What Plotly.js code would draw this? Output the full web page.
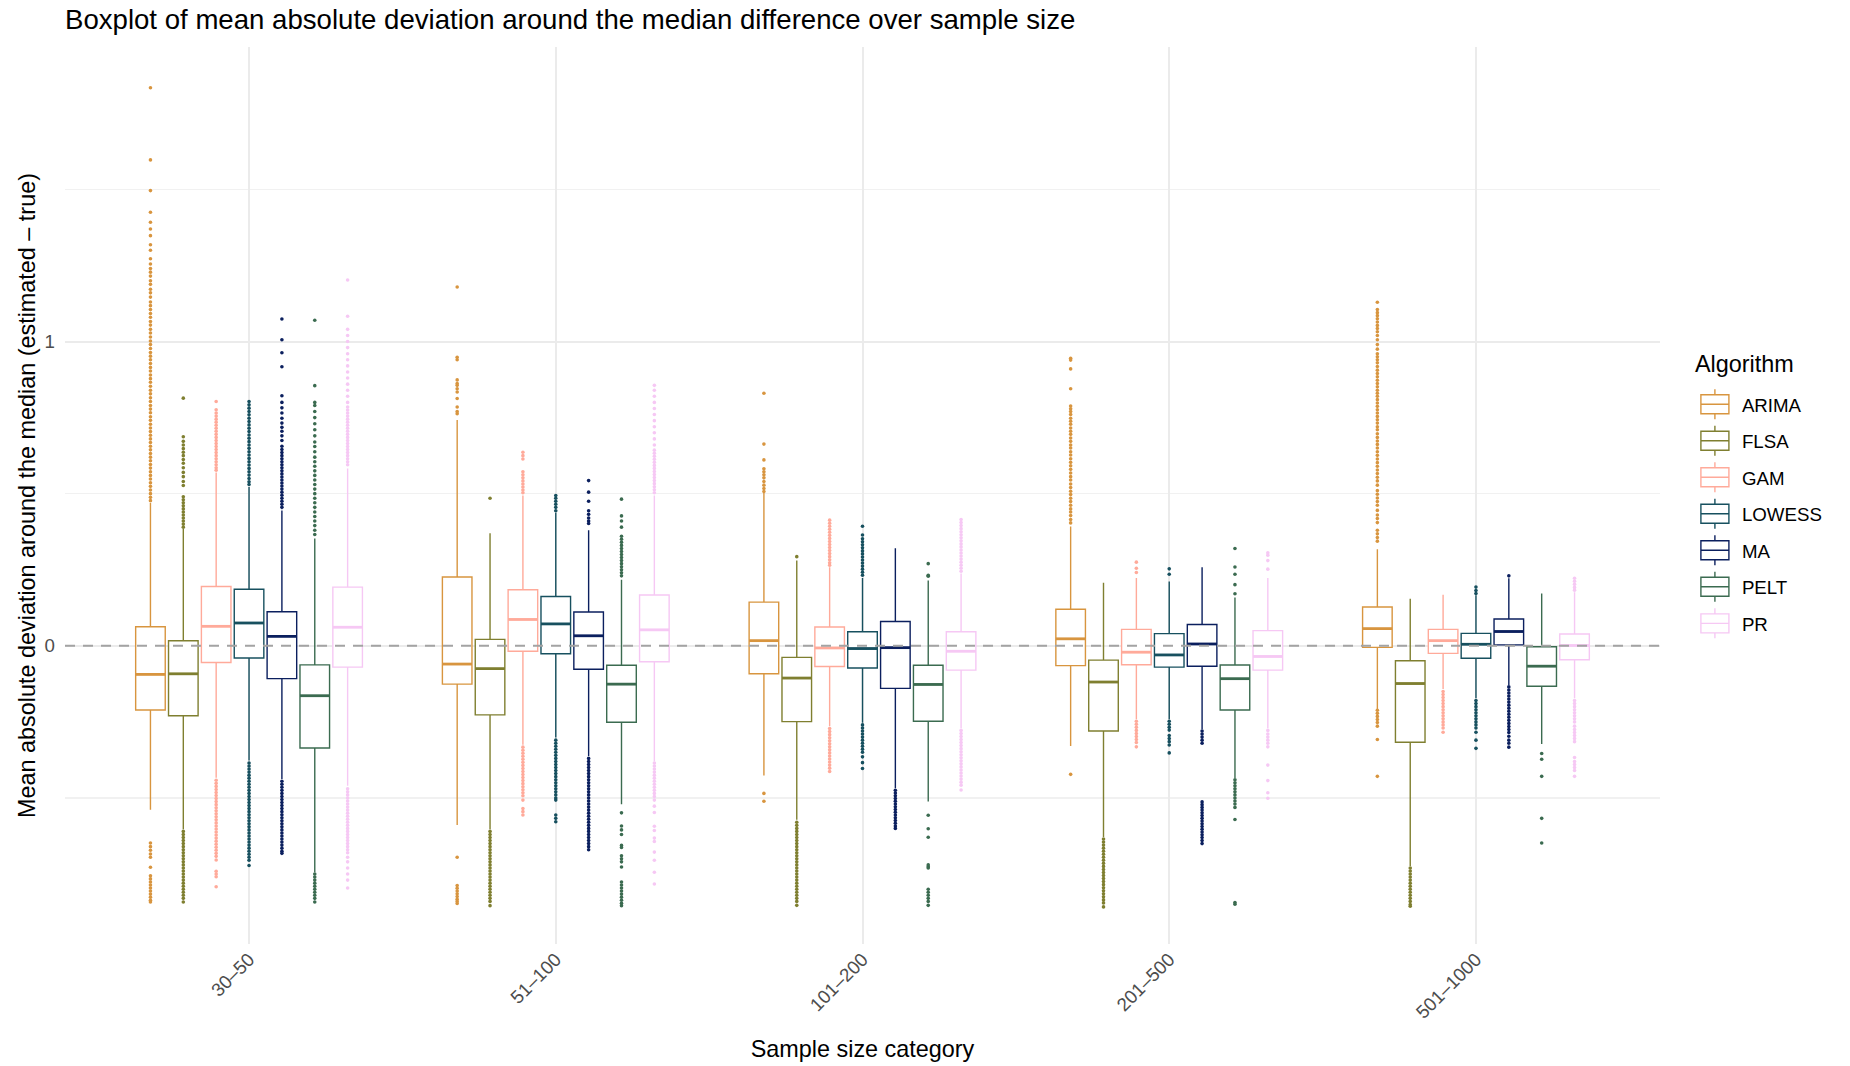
<!DOCTYPE html>
<html><head><meta charset="utf-8">
<script src="https://cdn.plot.ly/plotly-3.0.1.min.js"></script>
<style>html,body{margin:0;padding:0;background:#fff;} #chart{width:1850px;height:1066px;}</style>
</head><body><div id="chart"></div>
<script>
// ---------- DATA ----------
const categories = ["30–50", "51–100", "101–200", "201–500", "501–1000"];
const algorithms = ["ARIMA", "FLSA", "GAM", "LOWESS", "MA", "PELT", "PR"];

// box statistics: one row per algorithm, one value per sample-size category
const q3 = [
  [0.0625, 0.226, 0.1435, 0.120, 0.1275],
  [0.0165, 0.021, -0.038, -0.047, -0.049],
  [0.195, 0.184, 0.062, 0.054, 0.054],
  [0.186, 0.162, 0.046, 0.040, 0.041],
  [0.112, 0.111, 0.080, 0.070, 0.088],
  [-0.0625, -0.064, -0.064, -0.063, -0.003],
  [0.193, 0.167, 0.046, 0.050, 0.039]
];
const median = [
  [-0.094, -0.060, 0.017, 0.023, 0.0565],
  [-0.092, -0.075, -0.106, -0.119, -0.124],
  [0.064, 0.0866, -0.007, -0.021, 0.017],
  [0.075, 0.072, -0.009, -0.030, 0.005],
  [0.031, 0.033, -0.006, 0.006, 0.047],
  [-0.164, -0.126, -0.127, -0.108, -0.067],
  [0.061, 0.0525, -0.018, -0.035, 0.001]
];
const q1 = [
  [-0.211, -0.126, -0.092, -0.065, -0.005],
  [-0.230, -0.227, -0.249, -0.280, -0.317],
  [-0.055, -0.018, -0.068, -0.062, -0.025],
  [-0.040, -0.026, -0.073, -0.070, -0.041],
  [-0.108, -0.077, -0.140, -0.067, 0.003],
  [-0.336, -0.251, -0.248, -0.211, -0.133],
  [-0.070, -0.0525, -0.080, -0.080, -0.046]
];
const upperFence = [
  [0.469, 0.742, 0.505, 0.392, 0.317],
  [0.384, 0.370, 0.280, 0.207, 0.155],
  [0.570, 0.494, 0.258, 0.223, 0.168],
  [0.522, 0.437, 0.223, 0.211, 0.166],
  [0.445, 0.380, 0.321, 0.258, 0.222],
  [0.353, 0.217, 0.215, 0.1585, 0.172],
  [0.583, 0.494, 0.2375, 0.223, 0.176]
];
const lowerFence = [
  [-0.539, -0.589, -0.426, -0.329, -0.212],
  [-0.603, -0.603, -0.572, -0.628, -0.724],
  [-0.434, -0.325, -0.264, -0.241, -0.142],
  [-0.377, -0.301, -0.2525, -0.241, -0.172],
  [-0.4375, -0.362, -0.468, -0.274, -0.129],
  [-0.744, -0.521, -0.512, -0.4345, -0.323],
  [-0.46, -0.379, -0.271, -0.271, -0.172]
];

// outliers, per algorithm: one list per sample-size category
const outARIMA = [
  [1.834,1.597,1.496,1.425,1.392,1.37,1.348,1.318,1.3,1.272,1.255,1.24,1.228,1.215,1.2,1.188,1.172,1.16,1.146,1.13,1.118,1.105,1.092,1.08,1.066,1.054,1.04,1.028,1.015,1.002,0.99,0.977,0.964,0.952,0.94,0.928,0.915,0.903,0.89,0.878,0.866,0.853,0.84,0.828,0.815,0.803,0.79,0.778,0.766,0.753,0.741,0.728,0.716,0.704,0.692,0.68,0.668,0.656,0.644,0.632,0.62,0.608,0.596,0.584,0.572,0.56,0.548,0.536,0.524,0.512,0.5,0.488,0.477,-0.648,-0.66,-0.672,-0.684,-0.695,-0.728,-0.756,-0.766,-0.776,-0.786,-0.796,-0.806,-0.816,-0.826,-0.836,-0.842],
  [1.179,0.948,0.94,0.874,0.862,0.856,0.845,0.834,0.813,0.785,0.77,0.763,-0.695,-0.788,-0.797,-0.806,-0.815,-0.824,-0.833,-0.84,-0.847],
  [0.83,0.663,0.611,0.582,0.572,0.562,0.552,0.54,0.528,0.517,0.507,-0.485,-0.511],
  [0.945,0.939,0.91,0.845,0.788,0.779,0.77,0.76,0.748,0.738,0.728,0.716,0.705,0.695,0.683,0.672,0.66,0.65,0.638,0.627,0.615,0.603,0.592,0.58,0.568,0.556,0.545,0.532,0.52,0.508,0.497,0.485,0.474,0.462,0.45,0.44,0.428,0.415,0.404,-0.4225],
  [1.129,1.105,1.095,1.085,1.075,1.064,1.053,1.043,1.032,1.02,1.006,0.99,0.975,0.96,0.95,0.94,0.93,0.918,0.906,0.895,0.884,0.873,0.862,0.851,0.84,0.83,0.82,0.809,0.798,0.787,0.776,0.765,0.754,0.743,0.732,0.72,0.71,0.697,0.685,0.673,0.662,0.65,0.638,0.626,0.614,0.602,0.59,0.578,0.566,0.554,0.542,0.528,0.51,0.498,0.486,0.474,0.462,0.445,0.43,0.418,0.405,0.38,0.368,0.356,0.344,-0.212,-0.222,-0.232,-0.242,-0.252,-0.264,-0.308,-0.429]
];
const outFLSA = [
  [0.814,0.687,0.672,0.66,0.648,0.636,0.625,0.612,0.6,0.585,0.57,0.556,0.54,0.527,0.49,0.48,0.47,0.46,0.45,0.44,0.43,0.42,0.41,0.4,0.39,-0.61,-0.62,-0.63,-0.64,-0.65,-0.66,-0.67,-0.68,-0.69,-0.7,-0.71,-0.72,-0.73,-0.74,-0.75,-0.76,-0.77,-0.78,-0.79,-0.8,-0.81,-0.82,-0.83,-0.842],
  [0.485,-0.61,-0.62,-0.63,-0.64,-0.65,-0.66,-0.67,-0.68,-0.69,-0.7,-0.71,-0.72,-0.73,-0.74,-0.75,-0.76,-0.77,-0.78,-0.79,-0.8,-0.81,-0.82,-0.83,-0.84,-0.854],
  [0.293,-0.58,-0.59,-0.6,-0.61,-0.62,-0.63,-0.64,-0.65,-0.66,-0.67,-0.68,-0.69,-0.7,-0.71,-0.72,-0.73,-0.74,-0.75,-0.76,-0.77,-0.78,-0.79,-0.8,-0.81,-0.82,-0.83,-0.84,-0.853],
  [-0.635,-0.645,-0.655,-0.665,-0.675,-0.685,-0.695,-0.705,-0.715,-0.725,-0.735,-0.745,-0.755,-0.765,-0.775,-0.785,-0.795,-0.805,-0.815,-0.825,-0.835,-0.845,-0.858],
  [-0.73,-0.74,-0.75,-0.76,-0.77,-0.78,-0.79,-0.8,-0.81,-0.82,-0.83,-0.84,-0.85,-0.856]
];
const outGAM = [
  [0.803,0.776,0.765,0.755,0.745,0.735,0.725,0.715,0.705,0.695,0.685,0.675,0.665,0.655,0.645,0.635,0.625,0.615,0.605,0.595,0.585,0.577,-0.442,-0.452,-0.462,-0.472,-0.482,-0.492,-0.502,-0.512,-0.522,-0.532,-0.542,-0.552,-0.562,-0.572,-0.582,-0.592,-0.602,-0.612,-0.622,-0.632,-0.642,-0.652,-0.662,-0.672,-0.682,-0.692,-0.704,-0.741,-0.75,-0.759,-0.792],
  [0.636,0.625,0.614,0.572,0.562,0.552,0.542,0.532,0.522,0.512,0.503,-0.333,-0.343,-0.353,-0.363,-0.373,-0.383,-0.393,-0.403,-0.413,-0.423,-0.433,-0.443,-0.453,-0.463,-0.473,-0.483,-0.493,-0.507,-0.535,-0.545,-0.556],
  [0.413,0.403,0.393,0.383,0.373,0.363,0.353,0.343,0.333,0.323,0.313,0.303,0.293,0.283,0.273,0.265,-0.272,-0.282,-0.292,-0.302,-0.312,-0.322,-0.332,-0.342,-0.352,-0.362,-0.372,-0.382,-0.392,-0.402,-0.413],
  [0.275,0.255,0.241,-0.248,-0.258,-0.268,-0.278,-0.288,-0.298,-0.308,-0.318,-0.332],
  [-0.15,-0.16,-0.17,-0.18,-0.19,-0.2,-0.21,-0.22,-0.23,-0.24,-0.25,-0.26,-0.27,-0.284]
];
const outLOWESS = [
  [0.803,0.792,0.781,0.77,0.759,0.748,0.737,0.726,0.715,0.704,0.693,0.682,0.671,0.66,0.649,0.638,0.627,0.616,0.605,0.594,0.583,0.572,0.561,0.55,0.539,0.53,-0.385,-0.395,-0.405,-0.415,-0.425,-0.435,-0.445,-0.455,-0.465,-0.475,-0.485,-0.495,-0.505,-0.515,-0.525,-0.535,-0.545,-0.555,-0.565,-0.575,-0.585,-0.595,-0.605,-0.615,-0.625,-0.635,-0.645,-0.655,-0.665,-0.675,-0.685,-0.695,-0.705,-0.722],
  [0.494,0.485,0.475,0.465,0.455,0.444,-0.31,-0.32,-0.33,-0.34,-0.35,-0.36,-0.37,-0.38,-0.39,-0.4,-0.41,-0.42,-0.43,-0.44,-0.45,-0.46,-0.47,-0.48,-0.49,-0.5,-0.507,-0.556,-0.567,-0.578],
  [0.393,0.364,0.352,0.342,0.332,0.322,0.312,0.302,0.292,0.282,0.272,0.262,0.252,0.242,0.232,-0.26,-0.27,-0.28,-0.29,-0.3,-0.31,-0.32,-0.33,-0.34,-0.35,-0.365,-0.384,-0.403],
  [0.253,0.235,-0.248,-0.258,-0.268,-0.277,-0.295,-0.305,-0.315,-0.326,-0.352],
  [0.193,0.182,0.172,-0.18,-0.19,-0.2,-0.21,-0.22,-0.23,-0.24,-0.25,-0.26,-0.27,-0.284,-0.31,-0.337]
];
const outMA = [
  [1.074,1.006,0.963,0.917,0.822,0.8,0.782,0.765,0.748,0.732,0.718,0.705,0.69,0.675,0.656,0.645,0.635,0.625,0.615,0.605,0.595,0.585,0.575,0.565,0.555,0.545,0.535,0.525,0.515,0.505,0.495,0.485,0.475,0.465,0.455,-0.445,-0.455,-0.465,-0.475,-0.485,-0.495,-0.505,-0.515,-0.525,-0.535,-0.545,-0.555,-0.565,-0.575,-0.585,-0.595,-0.605,-0.615,-0.625,-0.635,-0.645,-0.655,-0.665,-0.675,-0.682],
  [0.543,0.505,0.475,0.444,0.432,0.42,0.41,0.402,-0.37,-0.38,-0.39,-0.4,-0.41,-0.42,-0.43,-0.44,-0.45,-0.46,-0.47,-0.48,-0.49,-0.5,-0.51,-0.52,-0.53,-0.54,-0.55,-0.56,-0.57,-0.58,-0.59,-0.6,-0.61,-0.62,-0.63,-0.64,-0.65,-0.66,-0.67],
  [-0.475,-0.484,-0.493,-0.502,-0.511,-0.52,-0.529,-0.538,-0.547,-0.556,-0.565,-0.574,-0.583,-0.592,-0.6],
  [-0.28,-0.29,-0.3,-0.31,-0.32,-0.513,-0.522,-0.531,-0.54,-0.549,-0.558,-0.567,-0.576,-0.585,-0.594,-0.603,-0.612,-0.621,-0.63,-0.64,-0.65],
  [0.23,-0.135,-0.145,-0.155,-0.165,-0.175,-0.185,-0.195,-0.205,-0.215,-0.225,-0.235,-0.245,-0.255,-0.265,-0.275,-0.285,-0.297,-0.31,-0.32,-0.333]
];
const outPELT = [
  [1.07,0.855,0.8,0.79,0.77,0.75,0.73,0.71,0.69,0.67,0.655,0.638,0.62,0.605,0.59,0.575,0.56,0.545,0.53,0.515,0.5,0.485,0.47,0.455,0.44,0.425,0.41,0.395,0.38,0.366,-0.75,-0.76,-0.77,-0.78,-0.79,-0.8,-0.81,-0.82,-0.83,-0.842],
  [0.482,0.427,0.41,0.39,0.36,0.35,0.34,0.33,0.32,0.31,0.3,0.29,0.28,0.27,0.26,0.25,0.24,0.23,-0.549,-0.592,-0.605,-0.62,-0.656,-0.663,-0.69,-0.7,-0.71,-0.727,-0.776,-0.786,-0.796,-0.806,-0.816,-0.826,-0.836,-0.846,-0.854],
  [0.27,0.232,0.229,-0.557,-0.601,-0.629,-0.72,-0.726,-0.73,-0.8,-0.81,-0.82,-0.83,-0.84,-0.853],
  [0.32,0.259,0.235,0.201,0.171,-0.44,-0.45,-0.46,-0.47,-0.48,-0.49,-0.5,-0.51,-0.52,-0.531,-0.571,-0.844,-0.849],
  [-0.354,-0.373,-0.429,-0.567,-0.648]
];
const outPR = [
  [1.202,1.083,1.04,1.02,1.0,0.98,0.96,0.94,0.92,0.9,0.88,0.86,0.84,0.82,0.8,0.785,0.775,0.765,0.755,0.745,0.735,0.725,0.715,0.705,0.695,0.685,0.675,0.665,0.655,0.645,0.635,0.625,0.615,0.605,0.595,-0.47,-0.48,-0.49,-0.5,-0.51,-0.52,-0.53,-0.54,-0.55,-0.56,-0.57,-0.58,-0.59,-0.6,-0.61,-0.62,-0.63,-0.64,-0.65,-0.66,-0.67,-0.68,-0.695,-0.71,-0.73,-0.75,-0.77,-0.796],
  [0.856,0.84,0.82,0.8,0.78,0.76,0.74,0.72,0.7,0.68,0.66,0.643,0.633,0.623,0.613,0.603,0.593,0.583,0.573,0.563,0.553,0.543,0.533,0.523,0.513,0.503,-0.385,-0.395,-0.405,-0.415,-0.425,-0.435,-0.445,-0.455,-0.465,-0.475,-0.485,-0.495,-0.507,-0.527,-0.548,-0.593,-0.607,-0.632,-0.643,-0.678,-0.705,-0.744,-0.783],
  [0.415,0.405,0.395,0.385,0.375,0.365,0.355,0.345,0.335,0.325,0.315,0.305,0.295,0.285,0.275,0.265,0.255,0.245,-0.278,-0.288,-0.298,-0.308,-0.318,-0.328,-0.338,-0.348,-0.358,-0.368,-0.378,-0.388,-0.398,-0.408,-0.418,-0.428,-0.438,-0.448,-0.458,-0.474],
  [0.306,0.298,0.28,0.252,-0.278,-0.29,-0.3,-0.31,-0.32,-0.332,-0.392,-0.443,-0.483,-0.501],
  [0.222,0.212,0.202,0.192,0.183,-0.18,-0.19,-0.2,-0.21,-0.22,-0.23,-0.24,-0.25,-0.264,-0.275,-0.285,-0.295,-0.305,-0.315,-0.367,-0.38,-0.39,-0.4,-0.41,-0.429]
];
const outliers = [outARIMA, outFLSA, outGAM, outLOWESS, outMA, outPELT, outPR];

// ---------- STYLE ----------
const colors = ["#D8953F", "#7F7F30", "#FFAA9A", "#17505F", "#0B1F5E", "#3B6B50", "#F6C8F4"];
const FONT = "Liberation Sans, Arial, sans-serif";
const dodge = 0.75, nAlg = algorithms.length;
const slot = dodge / nAlg, boxW = slot * 0.9;

const traces = [];
algorithms.forEach((alg, i) => {
  const off = (i - (nAlg - 1) / 2) * slot;
  const xs = categories.map((c, j) => j + 1 + off);
  traces.push({
    type: 'box', name: alg, legendgroup: alg, orientation: 'v',
    x: xs, q1: q1[i], median: median[i], q3: q3[i],
    lowerfence: lowerFence[i], upperfence: upperFence[i],
    width: boxW, boxpoints: false, whiskerwidth: 0,
    line: { color: colors[i], width: 1.4 }, fillcolor: 'white',
    marker: { color: colors[i] }, hoverinfo: 'y'
  });
  const ox = [], oy = [];
  outliers[i].forEach((arr, j) => arr.forEach(v => { ox.push(j + 1 + off); oy.push(v); }));
  traces.push({
    type: 'scatter', mode: 'markers', x: ox, y: oy, legendgroup: alg, showlegend: false,
    marker: { color: colors[i], size: 3.6, line: { width: 0 } }, hoverinfo: 'y'
  });
  const mx = [], my = [];
  median[i].forEach((m, j) => { const c = j + 1 + off; mx.push(c - boxW / 2, c + boxW / 2, null); my.push(m, m, null); });
  traces.push({
    type: 'scatter', mode: 'lines', x: mx, y: my, legendgroup: alg, showlegend: false,
    line: { color: colors[i], width: 2.8 }, hoverinfo: 'skip'
  });
});

const layout = {
  width: 1850, height: 1066,
  margin: { l: 65, r: 190, t: 47, b: 122 },
  paper_bgcolor: 'white', plot_bgcolor: 'white',
  font: { family: FONT, color: '#000000' },
  showlegend: true,
  title: {
    text: 'Boxplot of mean absolute deviation around the median difference over sample size',
    x: 0, xref: 'paper', xanchor: 'left', y: 0.982, yref: 'container', yanchor: 'middle',
    font: { size: 27.6, color: '#000000', family: FONT }
  },
  boxmode: 'overlay',
  xaxis: {
    range: [0.4, 5.6], tickmode: 'array', tickvals: [1, 2, 3, 4, 5], ticktext: categories,
    tickangle: -45, tickfont: { size: 18.7, color: '#4D4D4D' },
    showgrid: true, gridcolor: '#EBEBEB', gridwidth: 2, zeroline: false, showline: false, ticks: '',
    title: { text: 'Sample size category', font: { size: 23.4, color: '#000000' }, standoff: 19 }
  },
  yaxis: {
    range: [-0.98, 1.968], tickmode: 'array', tickvals: [0, 1], ticktext: ['0', '1'],
    tickfont: { size: 18.7, color: '#4D4D4D' }, ticklabelstandoff: 9,
    showgrid: true, gridcolor: '#EBEBEB', gridwidth: 2, zeroline: false, showline: false, ticks: '',
    minor: { tickvals: [-0.5, 0.5, 1.5], showgrid: true, gridcolor: '#F1F1F1', gridwidth: 1.2, ticks: '' },
    title: { text: 'Mean absolute deviation around the median (estimated – true)', font: { size: 23.4, color: '#000000' }, standoff: 2 }
  },
  shapes: [{
    type: 'line', xref: 'paper', x0: 0, x1: 1, yref: 'y', y0: 0, y1: 0, layer: 'above',
    line: { color: '#A3A3A3', width: 2, dash: '10px,8px' }
  }],
  annotations: [{
    text: 'Algorithm', xref: 'paper', yref: 'paper', x: 1.0204, y: 0.647,
    xanchor: 'left', yanchor: 'middle', showarrow: false,
    font: { size: 23.4, color: '#000000', family: FONT }
  }],
  legend: {
    x: 1.02, xanchor: 'left', y: 0.6225, yanchor: 'top',
    font: { size: 18.7, color: '#000000' }, itemwidth: 40,
    tracegroupgap: 9.2, bgcolor: 'rgba(0,0,0,0)'
  }
};

Plotly.newPlot('chart', traces, layout, { displayModeBar: false, staticPlot: true }).then(() => {
  // legend key drawn like a ggplot boxplot key: box, median line and whisker stubs
  document.querySelectorAll('path.legendbox').forEach(p => {
    p.setAttribute('d', 'M-16,-9.5H12V9.5H-16Z M-16,0H12 M-2,-9.5V-15 M-2,9.5V15');
    p.style.strokeWidth = '1.4px';
  });
});
</script>
</body></html>
